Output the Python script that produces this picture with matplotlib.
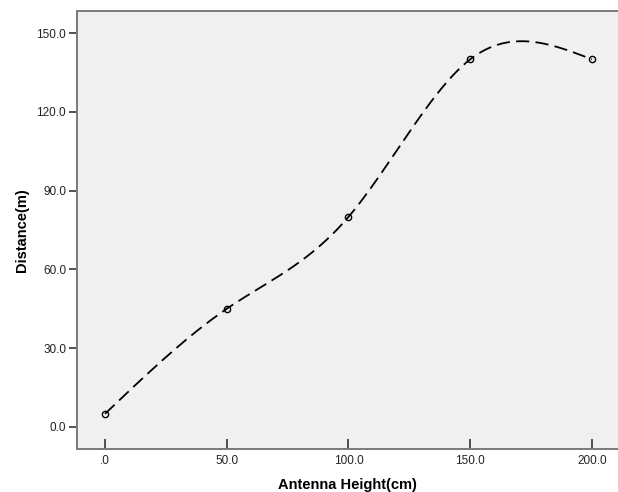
import numpy as np
import matplotlib
matplotlib.use('Agg')
import matplotlib.pyplot as plt

plt.rcParams['font.family'] = ['Liberation Sans', 'DejaVu Sans']
plt.rcParams['lines.scale_dashes'] = False

# data
height_cm = [0, 50, 100, 150, 200]
distance_m = [5, 45, 80, 140, 140]
x_ticks = [0, 50, 100, 150, 200]
x_labels = ['.0', '50.0', '100.0', '150.0', '200.0']
y_ticks = [0, 30, 60, 90, 120, 150]
y_labels = ['0.0', '30.0', '60.0', '90.0', '120.0', '150.0']


def natural_spline(x, y, n=400):
    # plain natural cubic spline, like the smooth interpolation line in SPSS
    x = np.asarray(x, float)
    y = np.asarray(y, float)
    k = len(x)
    h = np.diff(x)
    A = np.zeros((k, k))
    b = np.zeros(k)
    A[0, 0] = 1
    A[-1, -1] = 1
    for i in range(1, k - 1):
        A[i, i - 1] = h[i - 1]
        A[i, i] = 2 * (h[i - 1] + h[i])
        A[i, i + 1] = h[i]
        b[i] = 6 * ((y[i + 1] - y[i]) / h[i] - (y[i] - y[i - 1]) / h[i - 1])
    M = np.linalg.solve(A, b)
    xs = np.linspace(x[0], x[-1], n)
    idx = np.clip(np.searchsorted(x, xs) - 1, 0, k - 2)
    x0, x1 = x[idx], x[idx + 1]
    hh = x1 - x0
    t0 = x1 - xs
    t1 = xs - x0
    ys = (M[idx] * t0 ** 3 / (6 * hh) + M[idx + 1] * t1 ** 3 / (6 * hh)
          + (y[idx] / hh - M[idx] * hh / 6) * t0
          + (y[idx + 1] / hh - M[idx + 1] * hh / 6) * t1)
    return xs, ys


fig = plt.figure(figsize=(6.18, 4.92), dpi=100)
ax = fig.add_axes([0.125, 0.0874, 0.875, 0.8902])
ax.set_facecolor('#f0f0f0')

xs, ys = natural_spline(height_cm, distance_m)
ax.plot(xs, ys, color='black', lw=1.3, dashes=(9.5, 4.5))
ax.plot(height_cm, distance_m, 'o', mfc='none', mec='black', ms=4.5, mew=1.0)

ax.set_xlim(-11.4, 210.7)
ax.set_ylim(-8.4, 158.4)
ax.set_xticks(x_ticks)
ax.set_xticklabels(x_labels)
ax.set_yticks(y_ticks)
ax.set_yticklabels(y_labels)

for s in ['left', 'bottom', 'top']:
    ax.spines[s].set_color('#7a7a7a')
    ax.spines[s].set_linewidth(1.4)
ax.spines['right'].set_visible(False)

ax.tick_params(axis='x', direction='in', length=7, width=1.2, color='#333333',
               labelsize=8.5, labelcolor='#222222', pad=4)
ax.tick_params(axis='y', direction='out', length=6, width=1.2, color='#333333',
               labelsize=8.5, labelcolor='#222222', pad=2)

ax.set_xlabel('Antenna Height(cm)', fontsize=10.5, fontweight='bold', labelpad=8)
ax.set_ylabel('Distance(m)', fontsize=10.5, fontweight='bold', labelpad=5)

fig.savefig('out.png', dpi=100)
